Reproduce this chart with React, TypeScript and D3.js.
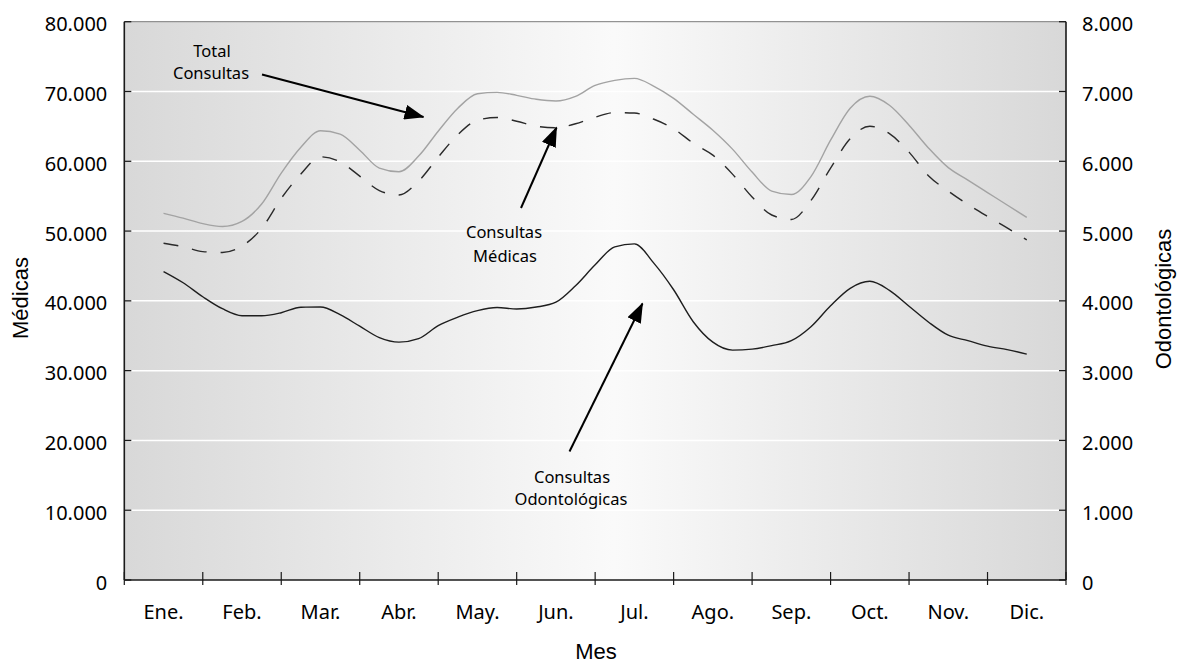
import React from "react";
import * as d3 from "d3";

const meses = ["Ene.", "Feb.", "Mar.", "Abr.", "May.", "Jun.", "Jul.", "Ago.", "Sep.", "Oct.", "Nov.", "Dic."];

const totalConsultas = [
  52550, 51850, 51070, 50660, 51390, 53880, 58310, 62010, 64370, 63880,
  61590, 59020, 58490, 60740, 64310, 67600, 69670, 69880, 69450, 68880,
  68640, 69310, 70880, 71600, 71880, 70740, 69020, 66740, 64450, 61740,
  58450, 55730, 55230, 57810, 63020, 67600, 69310, 68020, 65170, 61880,
  59090, 57310, 55520, 53730, 51950,
];

const consultasMedicas = [
  48260, 47760, 47060, 46920, 47860, 50380, 54690, 58180, 60640, 59910,
  57880, 55810, 55160, 57160, 60590, 63810, 65880, 66270, 65740, 65020,
  64810, 65380, 66310, 66980, 66910, 66020, 64670, 62590, 60880, 58160,
  54880, 52300, 51660, 54380, 59020, 63240, 65020, 63950, 61310, 57880,
  55730, 53810, 52090, 50450, 48730,
];

const consultasOdontologicas = [
  4420, 4259, 4059, 3887, 3787, 3787, 3830, 3909, 3911, 3801,
  3637, 3473, 3408, 3458, 3644, 3766, 3859, 3904, 3884, 3911,
  3980, 4216, 4516, 4773, 4816, 4537, 4159, 3701, 3408, 3294,
  3308, 3358, 3430, 3630, 3930, 4180, 4280, 4151, 3923, 3694,
  3508, 3430, 3351, 3301, 3237,
];

const ticksIzq = [0, 10000, 20000, 30000, 40000, 50000, 60000, 70000, 80000];
const ticksDer = [0, 1000, 2000, 3000, 4000, 5000, 6000, 7000, 8000];

const W = 1184;
const H = 666;
const L = 124.3;
const R = 1066;
const T = 21.7;
const B = 580;

const fmt = (v: number) => (v === 0 ? "0" : d3.format(",")(v).replace(/,/g, "."));

export default function App() {
  const xBand = d3.scaleBand<string>().domain(meses).range([L, R]).paddingInner(0).paddingOuter(0);
  const n = totalConsultas.length;
  const xPos = d3
    .scaleLinear()
    .domain([0, n - 1])
    .range([xBand(meses[0])! + xBand.bandwidth() / 2, xBand(meses[meses.length - 1])! + xBand.bandwidth() / 2]);
  const yL = d3.scaleLinear().domain([0, 80000]).range([B, T]);
  const yR = d3.scaleLinear().domain([0, 8000]).range([B, T]);

  const lineL = d3
    .line<number>()
    .x((_, i) => xPos(i))
    .y((d) => yL(d))
    .curve(d3.curveMonotoneX);
  const lineR = d3
    .line<number>()
    .x((_, i) => xPos(i))
    .y((d) => yR(d))
    .curve(d3.curveMonotoneX);

  const tickFont = "'Noto Sans', 'DejaVu Sans', sans-serif";
  const titleFont = "'Liberation Sans', Arial, sans-serif";
  const boundaries = d3.range(meses.length + 1).map((i) => L + i * xBand.bandwidth());

  return (
    <svg
      width={W}
      height={H}
      style={{ position: "absolute", left: 0, top: 0, background: "#fff" }}
      xmlns="http://www.w3.org/2000/svg"
    >
      <defs>
        <linearGradient id="bg" x1="0" x2="1" y1="0" y2="0">
          <stop offset="0" stopColor="#d8d8d8" />
          <stop offset="0.52" stopColor="#fafafa" />
          <stop offset="1" stopColor="#d8d8d8" />
        </linearGradient>
        <marker
          id="arrow"
          viewBox="0 0 20 15"
          refX="19"
          refY="7.5"
          markerWidth="20"
          markerHeight="15"
          markerUnits="userSpaceOnUse"
          orient="auto"
        >
          <path d="M0,0 L20,7.5 L0,15 z" fill="#000" />
        </marker>
      </defs>

      <rect x={L} y={T} width={R - L} height={B - T} fill="url(#bg)" />

      {ticksIzq
        .filter((t) => t > 0 && t < 80000)
        .map((t) => (
          <line key={"g" + t} x1={L} x2={R} y1={yL(t)} y2={yL(t)} stroke="#fff" strokeWidth={1.5} />
        ))}

      {/* frame */}
      <line x1={L} x2={R} y1={T} y2={T} stroke="#7a7a7a" strokeWidth={1} />
      <line x1={L} x2={L} y1={T} y2={B} stroke="#1a1a1a" strokeWidth={1.6} />
      <line x1={R} x2={R} y1={T} y2={B} stroke="#1a1a1a" strokeWidth={1.6} />
      <line x1={L} x2={R} y1={B} y2={B} stroke="#1a1a1a" strokeWidth={1.6} />

      {/* left ticks */}
      {ticksIzq.map((t) => (
        <g key={"l" + t}>
          <line x1={L} x2={L + 7} y1={yL(t)} y2={yL(t)} stroke="#1a1a1a" strokeWidth={1.3} />
          <text
            x={L - 17}
            y={yL(t) + 9.5}
            textAnchor="end"
            fontFamily={tickFont}
            fontSize={20}
            fill="#000"
          >
            {fmt(t)}
          </text>
        </g>
      ))}

      {/* right ticks */}
      {ticksDer.map((t) => (
        <g key={"r" + t}>
          <line x1={R - 7} x2={R} y1={yR(t)} y2={yR(t)} stroke="#1a1a1a" strokeWidth={1.3} />
          <text x={R + 16} y={yR(t) + 9.5} textAnchor="start" fontFamily={tickFont} fontSize={20} fill="#000">
            {fmt(t)}
          </text>
        </g>
      ))}

      {/* x ticks */}
      {boundaries.map((bx, i) => (
        <line key={"x" + i} x1={bx} x2={bx} y1={B - 8} y2={B + 5} stroke="#1a1a1a" strokeWidth={1.2} />
      ))}
      {meses.map((m) => (
        <text
          key={m}
          x={xBand(m)! + xBand.bandwidth() / 2}
          y={619}
          textAnchor="middle"
          fontFamily={tickFont}
          fontSize={20}
          fill="#000"
        >
          {m}
        </text>
      ))}

      {/* axis titles */}
      <text x={596} y={659} textAnchor="middle" fontFamily={titleFont} fontSize={22} fill="#000">
        Mes
      </text>
      <text
        transform={`translate(28,298) rotate(-90)`}
        textAnchor="middle"
        fontFamily={titleFont}
        fontSize={22}
        fill="#000"
      >
        Médicas
      </text>
      <text
        transform={`translate(1171,299) rotate(-90)`}
        textAnchor="middle"
        fontFamily={titleFont}
        fontSize={22}
        fill="#000"
      >
        Odontológicas
      </text>

      {/* series */}
      <path d={lineL(totalConsultas)!} fill="none" stroke="#a3a3a3" strokeWidth={1.4} />
      <path
        d={lineL(consultasMedicas)!}
        fill="none"
        stroke="#2a2a2a"
        strokeWidth={1.4}
        strokeDasharray="15,14"
      />
      <path d={lineR(consultasOdontologicas)!} fill="none" stroke="#1e1e1e" strokeWidth={1.4} />

      {/* annotations */}
      <g fontFamily={tickFont} fontSize={16.5} fill="#000" textAnchor="middle">
        <text x={212} y={57}>Total</text>
        <text x={211} y={79}>Consultas</text>
        <text x={504} y={238}>Consultas</text>
        <text x={505} y={261.5}>Médicas</text>
        <text x={572} y={483}>Consultas</text>
        <text x={571} y={505}>Odontológicas</text>
      </g>
      <line x1={262} y1={74.5} x2={423.5} y2={117} stroke="#000" strokeWidth={2} markerEnd="url(#arrow)" />
      <line x1={521} y1={208} x2={556.5} y2={127.5} stroke="#000" strokeWidth={2} markerEnd="url(#arrow)" />
      <line x1={569.5} y1={451.5} x2={642.5} y2={303.5} stroke="#000" strokeWidth={2} markerEnd="url(#arrow)" />
    </svg>
  );
}
